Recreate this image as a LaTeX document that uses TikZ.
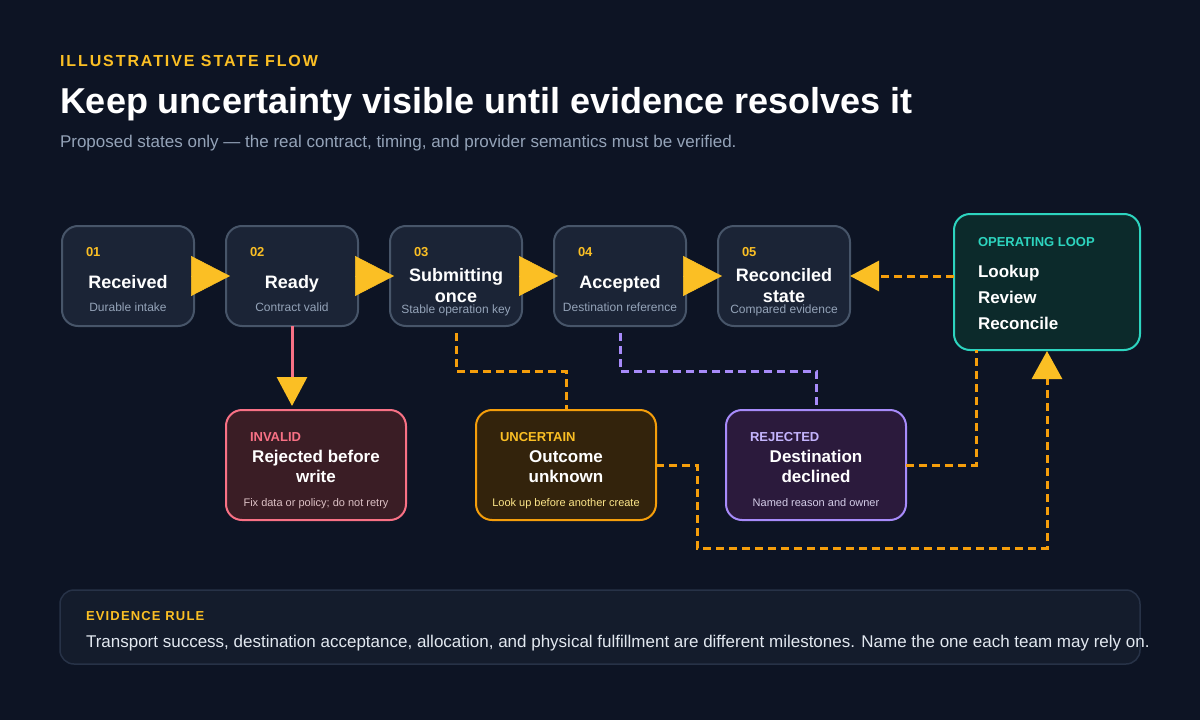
\documentclass[tikz,border=0pt]{standalone}
\usepackage{fontspec}
\setmainfont{Liberation Sans}
\newfontfamily\spacedfont[LetterSpace=12]{Liberation Sans}
\newfontfamily\spacedfontb[LetterSpace=9]{Liberation Sans}
\usetikzlibrary{arrows.meta,calc}
\definecolor{bgc}{HTML}{0D1424}
\definecolor{amber}{HTML}{FBBF24}
\definecolor{slatet}{HTML}{94A3B8}
\definecolor{boxfill}{HTML}{1B2436}
\definecolor{boxline}{HTML}{475569}
\definecolor{teal}{HTML}{2DD4BF}
\definecolor{loopfill}{HTML}{0C2A2B}
\definecolor{rose}{HTML}{F87185}
\definecolor{invfill}{HTML}{3A1D25}
\definecolor{invsub}{HTML}{DCC1C5}
\definecolor{orng}{HTML}{F59E0B}
\definecolor{uncfill}{HTML}{33230C}
\definecolor{uncsub}{HTML}{FDE68A}
\definecolor{purp}{HTML}{A78BFA}
\definecolor{purplab}{HTML}{C4B5FD}
\definecolor{rejfill}{HTML}{2B1A3C}
\definecolor{rejsub}{HTML}{D4CDE8}
\definecolor{evfill}{HTML}{141C2C}
\definecolor{evline}{HTML}{273247}
\definecolor{bodyt}{HTML}{E2E8F0}
\begin{document}
\begin{tikzpicture}[x=1pt,y=-1pt,
  every node/.style={inner sep=0pt, outer sep=0pt},
  statebox/.style={draw=boxline, fill=boxfill, line width=2pt, rounded corners=16pt, minimum width=132pt, minimum height=100pt},
  lowbox/.style={line width=2pt, rounded corners=16pt, minimum width=180pt, minimum height=110pt},
  num/.style={font=\fontsize{13}{13}\selectfont\bfseries, text=amber, anchor=base west},
  ttl/.style={font=\fontsize{18}{18}\selectfont\bfseries, text=white, anchor=base},
  sub/.style={font=\fontsize{12}{12}\selectfont, text=slatet, anchor=base},
  tag/.style={font=\fontsize{13}{13}\selectfont\bfseries, anchor=base west},
  ltl/.style={font=\fontsize{17}{17}\selectfont\bfseries, text=white, anchor=base},
  lsub/.style={font=\fontsize{11}{11}\selectfont, anchor=base},
  fwd/.style={amber, line width=0.5pt, -{Triangle[length=39pt,width=40pt]}, shorten >=-4pt},
  dashor/.style={orng, line width=3pt, dash pattern=on 8pt off 5pt},
  dashpu/.style={purp, line width=3pt, dash pattern=on 8pt off 5pt},
  ytip/.style={-{Triangle[length=29pt,width=30pt,color=amber,fill=amber]}}
]
\useasboundingbox (0,0) rectangle (1200,720);
\fill[bgc] (0,0) rectangle (1200,720);

% header
\node[anchor=base west, text=amber, font=\fontsize{16}{16}\selectfont\bfseries\spacedfont] (kicker) at (60,66) {ILLUSTRATIVE STATE FLOW};
\node[anchor=base west, text=white, font=\fontsize{36}{36}\selectfont\bfseries] (title) at (60,113) {Keep uncertainty visible until evidence resolves it};
\node[anchor=base west, text=slatet, font=\fontsize{17}{17}\selectfont] (subtitle) at (60,147) {Proposed states only — the real contract, timing, and provider semantics must be verified.};

% top state boxes
\node[statebox] (b1) at (128,276) {};
\node[statebox] (b2) at (292,276) {};
\node[statebox] (b3) at (456,276) {};
\node[statebox] (b4) at (620,276) {};
\node[statebox] (b5) at (784,276) {};

\node[num] (n1) at (86,256) {01};
\node[ttl] (t1) at (128,288) {Received};
\node[sub] (s1) at (128,311) {Durable intake};

\node[num] (n2) at (250,256) {02};
\node[ttl] (t2) at (292,288) {Ready};
\node[sub] (s2) at (292,311) {Contract valid};

\node[num] (n3) at (414,256) {03};
\node[ttl] (t3a) at (456,281) {Submitting};
\node[ttl] (t3b) at (456,302) {once};
\node[sub] (s3) at (456,313) {Stable operation key};

\node[num] (n4) at (578,256) {04};
\node[ttl] (t4) at (620,288) {Accepted};
\node[sub] (s4) at (620,311) {Destination reference};

\node[num] (n5) at (742,256) {05};
\node[ttl] (t5a) at (784,281) {Reconciled};
\node[ttl] (t5b) at (784,302) {state};
\node[sub] (s5) at (784,313) {Compared evidence};

% operating loop
\node[draw=teal, fill=loopfill, line width=2pt, rounded corners=16pt, minimum width=186pt, minimum height=136pt] (loop) at (1047,282) {};
\node[tag, text=teal] (looptag) at (978,246) {OPERATING LOOP};
\node[font=\fontsize{17}{17}\selectfont\bfseries, text=white, anchor=base west] (l1) at (978,277) {Lookup};
\node[font=\fontsize{17}{17}\selectfont\bfseries, text=white, anchor=base west] (l2) at (978,303) {Review};
\node[font=\fontsize{17}{17}\selectfont\bfseries, text=white, anchor=base west] (l3) at (978,329) {Reconcile};

% lower boxes
\node[lowbox, draw=rose, fill=invfill] (inv) at (316,465) {};
\node[tag, text=rose] (invtag) at (250,441) {INVALID};
\node[ltl] (inv1) at (316,462) {Rejected before};
\node[ltl] (inv2) at (316,482) {write};
\node[lsub, text=invsub] (invs) at (316,506) {Fix data or policy; do not retry};

\node[lowbox, draw=orng, fill=uncfill] (unc) at (566,465) {};
\node[tag, text=amber] (unctag) at (500,441) {UNCERTAIN};
\node[ltl] (unc1) at (566,462) {Outcome};
\node[ltl] (unc2) at (566,482) {unknown};
\node[lsub, text=uncsub] (uncs) at (566,506) {Look up before another create};

\node[lowbox, draw=purp, fill=rejfill] (rej) at (816,465) {};
\node[tag, text=purplab] (rejtag) at (750,441) {REJECTED};
\node[ltl] (rej1) at (816,462) {Destination};
\node[ltl] (rej2) at (816,482) {declined};
\node[lsub, text=rejsub] (rejs) at (816,506) {Named reason and owner};

% forward arrows
\draw[fwd] (b1) -- (b2);
\draw[fwd] (b2) -- (b3);
\draw[fwd] (b3) -- (b4);
\draw[fwd] (b4) -- (b5);

% invalid branch
\draw[rose, line width=3pt, ytip, shorten >=4pt] (b2.south) -- (b2.south |- inv.north);

% uncertain / rejected branches
\draw[dashor, shorten <=7pt] (b3.south) -- ++(0,45) -| (unc.north);
\draw[dashpu, shorten <=7pt] (b4.south) -- ++(0,45) -| (rej.north);

% into operating loop
\coordinate (lpin) at ($(loop.south west)+(22,0)$);
\draw[dashor] (rej.east) -| (lpin);
\draw[dashor, -{Triangle[length=28pt,width=30pt,color=amber,fill=amber]}, shorten >=1pt] (unc.east) -- ++(41,0) -- ++(0,83) -| (loop.south);

% loop back to reconciled
\draw[dashor, ytip] (b5.east -| loop.west) -- (b5.east);

% evidence rule
\node[draw=evline, fill=evfill, line width=1.5pt, rounded corners=14pt, minimum width=1080pt, minimum height=74pt] (ev) at (600,627) {};
\node[tag, text=amber, font=\fontsize{13}{13}\selectfont\bfseries\spacedfontb] (evtag) at (86,620) {EVIDENCE RULE};
\node[anchor=base west, text=bodyt, font=\fontsize{17}{17}\selectfont] (evbody) at (86,647) {Transport success, destination acceptance, allocation, and physical fulfillment are different milestones. Name the one each team may rely on.};
\end{tikzpicture}
\end{document}
